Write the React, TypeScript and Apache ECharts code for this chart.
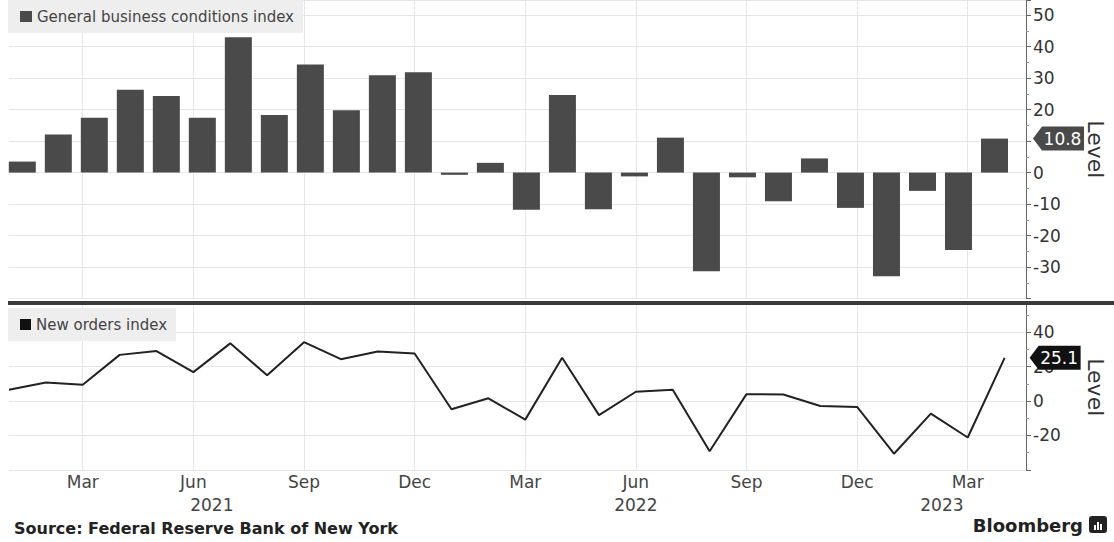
import React, { useEffect, useRef } from 'react';
import * as echarts from 'echarts';

const FONT = '"DejaVu Sans", "Liberation Sans", sans-serif';

const categories = [
  'Jan 2021', 'Feb 2021', 'Mar 2021', 'Apr 2021', 'May 2021', 'Jun 2021',
  'Jul 2021', 'Aug 2021', 'Sep 2021', 'Oct 2021', 'Nov 2021', 'Dec 2021',
  'Jan 2022', 'Feb 2022', 'Mar 2022', 'Apr 2022', 'May 2022', 'Jun 2022',
  'Jul 2022', 'Aug 2022', 'Sep 2022', 'Oct 2022', 'Nov 2022', 'Dec 2022',
  'Jan 2023', 'Feb 2023', 'Mar 2023', 'Apr 2023',
];

const generalBusiness = [
  3.5, 12.1, 17.4, 26.3, 24.3, 17.4, 43.0, 18.3, 34.3, 19.8, 30.9, 31.9,
  -0.7, 3.1, -11.8, 24.6, -11.6, -1.2, 11.1, -31.3, -1.5, -9.1, 4.5, -11.2,
  -32.9, -5.8, -24.6, 10.8,
];

const newOrders = [
  6.6, 10.8, 9.5, 26.8, 29.0, 16.8, 33.5, 15.0, 34.2, 24.3, 28.8, 27.6,
  -4.8, 1.6, -10.8, 25.1, -8.2, 5.4, 6.6, -29.2, 4.0, 3.8, -2.9, -3.4,
  -30.6, -7.3, -21.2, 25.1,
];

const monthTickValues = [2, 5, 8, 11, 14, 17, 20, 23, 26];
const monthTickLabels = ['Mar', 'Jun', 'Sep', 'Dec', 'Mar', 'Jun', 'Sep', 'Dec', 'Mar'];
const yearTickValues = [5.5, 17, 25.3];
const yearTickLabels = ['2021', '2022', '2023'];
// "10" is fully covered by the latest-value tag in the reference
const topTickLabels = [50, 40, 30, 20, 0, -10, -20, -30];
const bottomTickLabels = [40, 20, 0, -20];

const TAG_PATH = 'path://M0,12 L9,0 L51,0 L51,24 L9,24 Z';

export default function App() {
  const ref = useRef<HTMLDivElement>(null);

  useEffect(() => {
    const chart = echarts.init(ref.current as HTMLDivElement, null, { renderer: 'svg' });
    const last = categories.length - 1;
    const gridColor = '#e6e6e6';
    const axisColor = '#666666';

    const option = {
      animation: false,
      backgroundColor: '#ffffff',
      textStyle: { fontFamily: FONT },
      grid: [
        { left: 9, right: 84, top: 0, height: 298.6 },
        { left: 4.3, right: 101.5, top: 0, height: 298.6 },
        { left: 9, right: 84, top: 304.6, height: 165.3 },
      ],
      legend: [
        {
          data: ['General business conditions index'],
          left: 8, top: 0,
          backgroundColor: '#eeeeee',
          padding: [9, 9, 9, 12],
          icon: 'rect', itemWidth: 12, itemHeight: 11,
          textStyle: { fontSize: 15, color: '#444', fontFamily: FONT },
        },
        {
          data: ['New orders index'],
          left: 8, top: 308,
          backgroundColor: '#eeeeee',
          padding: [9, 9, 9, 12],
          icon: 'rect', itemWidth: 11, itemHeight: 11,
          textStyle: { fontSize: 15, color: '#444', fontFamily: FONT },
        },
      ],
      xAxis: [
        {
          type: 'value', gridIndex: 0, min: 0, max: 27.58,
          axisLine: { show: false, onZero: false },
          axisLabel: { show: false },
          axisTick: { show: false, customValues: monthTickValues },
          splitLine: { show: true, lineStyle: { color: gridColor, width: 1 } },
        },
        {
          type: 'category', gridIndex: 1, data: categories, show: false,
        },
        {
          type: 'value', gridIndex: 2, min: 0, max: 27.58, position: 'bottom',
          axisLine: { show: false, onZero: false },
          axisTick: { show: false, customValues: monthTickValues },
          axisLabel: {
            customValues: monthTickValues,
            formatter: (v: number) => {
              const i = monthTickValues.indexOf(v);
              return i >= 0 ? monthTickLabels[i] : '';
            },
            margin: 4, fontSize: 17, color: '#444', fontFamily: FONT,
          },
          splitLine: { show: true, lineStyle: { color: gridColor, width: 1 } },
        },
        {
          type: 'value', gridIndex: 2, min: 0, max: 27.58, position: 'bottom',
          axisLine: { show: false, onZero: false },
          axisTick: { show: false, customValues: yearTickValues },
          axisLabel: {
            customValues: yearTickValues,
            formatter: (v: number) => {
              const i = yearTickValues.indexOf(v);
              return i >= 0 ? yearTickLabels[i] : '';
            },
            margin: 27, fontSize: 17, color: '#444', fontFamily: FONT,
          },
          splitLine: { show: false },
        },
      ],
      yAxis: [
        {
          type: 'value', gridIndex: 0, position: 'right',
          min: -40, max: 54.8, interval: 10,
          name: 'Level', nameLocation: 'middle', nameRotate: -90, nameGap: 58,
          nameTextStyle: { fontSize: 22, color: '#333', fontFamily: FONT },
          axisLine: { show: true, onZero: false, lineStyle: { color: axisColor, width: 1 } },
          axisTick: { show: true, length: 5, lineStyle: { color: axisColor } },
          minorTick: { show: true, splitNumber: 2, length: 3, lineStyle: { color: '#999' } },
          axisLabel: {
            margin: 7, fontSize: 17, color: '#333', fontFamily: FONT,
            formatter: (v: number) => (topTickLabels.indexOf(v) >= 0 ? String(v) : ''),
          },
          splitLine: { show: true, lineStyle: { color: gridColor, width: 1 } },
        },
        {
          type: 'value', gridIndex: 1, min: -40, max: 54.8, show: false,
          axisLine: { onZero: false },
          splitLine: { show: false },
        },
        {
          type: 'value', gridIndex: 2, position: 'right',
          min: -40, max: 56, interval: 20,
          name: 'Level', nameLocation: 'middle', nameRotate: -90, nameGap: 58,
          nameTextStyle: { fontSize: 22, color: '#333', fontFamily: FONT },
          axisLine: { show: true, onZero: false, lineStyle: { color: axisColor, width: 1 } },
          axisTick: { show: true, length: 5, lineStyle: { color: axisColor } },
          minorTick: { show: true, splitNumber: 2, length: 3, lineStyle: { color: '#999' } },
          axisLabel: {
            margin: 7, fontSize: 17, color: '#333', fontFamily: FONT,
            formatter: (v: number) => (bottomTickLabels.indexOf(v) >= 0 ? String(v) : ''),
          },
          splitLine: { show: true, lineStyle: { color: gridColor, width: 1 } },
        },
      ],
      series: [
        {
          type: 'bar',
          name: 'General business conditions index',
          xAxisIndex: 1, yAxisIndex: 1,
          data: generalBusiness,
          barWidth: 27,
          itemStyle: { color: '#4a4a4a' },
          markPoint: {
            symbol: TAG_PATH,
            symbolSize: [51, 24],
            symbolOffset: [64, 0],
            silent: true,
            itemStyle: { color: '#4a4a4a' },
            label: {
              show: true, position: 'inside', offset: [4, 0],
              color: '#ffffff', fontSize: 17, fontFamily: FONT,
              formatter: (p: any) => String(p.value),
            },
            data: [{ coord: [categories[last], generalBusiness[last]], value: generalBusiness[last] }],
          },
        },
        {
          type: 'line',
          name: 'New orders index',
          xAxisIndex: 2, yAxisIndex: 2,
          data: newOrders.map((v, i) => [i, v]),
          symbol: 'none',
          lineStyle: { color: '#222222', width: 2 },
          itemStyle: { color: '#111111' },
          markPoint: {
            symbol: TAG_PATH,
            symbolSize: [51, 24],
            symbolOffset: [50.5, 0],
            silent: true,
            itemStyle: { color: '#111111' },
            label: {
              show: true, position: 'inside', offset: [4, 0],
              color: '#ffffff', fontSize: 17, fontFamily: FONT,
              formatter: (p: any) => String(p.value),
            },
            data: [{ coord: [last, newOrders[last]], value: newOrders[last] }],
          },
        },
      ],
      graphic: [
        {
          type: 'rect', z: 100,
          shape: { x: 8, y: 301, width: 1106, height: 4 },
          style: { fill: '#3a3a3a' },
        },
        {
          type: 'text', z: 100, x: 14, y: 528,
          style: {
            text: 'Source: Federal Reserve Bank of New York',
            fontSize: 16, fontWeight: 'bold', fontFamily: FONT,
            fill: '#222', verticalAlign: 'middle', align: 'left',
          },
        },
        {
          type: 'text', z: 100, x: 1083, y: 525,
          style: {
            text: 'Bloomberg',
            fontSize: 18, fontWeight: 'bold', fontFamily: FONT,
            fill: '#222', verticalAlign: 'middle', align: 'right',
          },
        },
        {
          type: 'group', z: 100, x: 1089, y: 516,
          children: [
            { type: 'rect', shape: { x: 0, y: 0, width: 18, height: 17, r: 3 }, style: { fill: '#222' } },
            { type: 'rect', shape: { x: 5, y: 9, width: 2, height: 5 }, style: { fill: '#fff' } },
            { type: 'rect', shape: { x: 8, y: 6, width: 2, height: 8 }, style: { fill: '#fff' } },
            { type: 'rect', shape: { x: 11, y: 8, width: 2, height: 6 }, style: { fill: '#fff' } },
          ],
        },
      ],
    };

    chart.setOption(option as any);
    return () => {
      chart.dispose();
    };
  }, []);

  return (
    <div
      ref={ref}
      style={{ position: 'absolute', left: 0, top: 0, width: 1114, height: 542 }}
    />
  );
}
